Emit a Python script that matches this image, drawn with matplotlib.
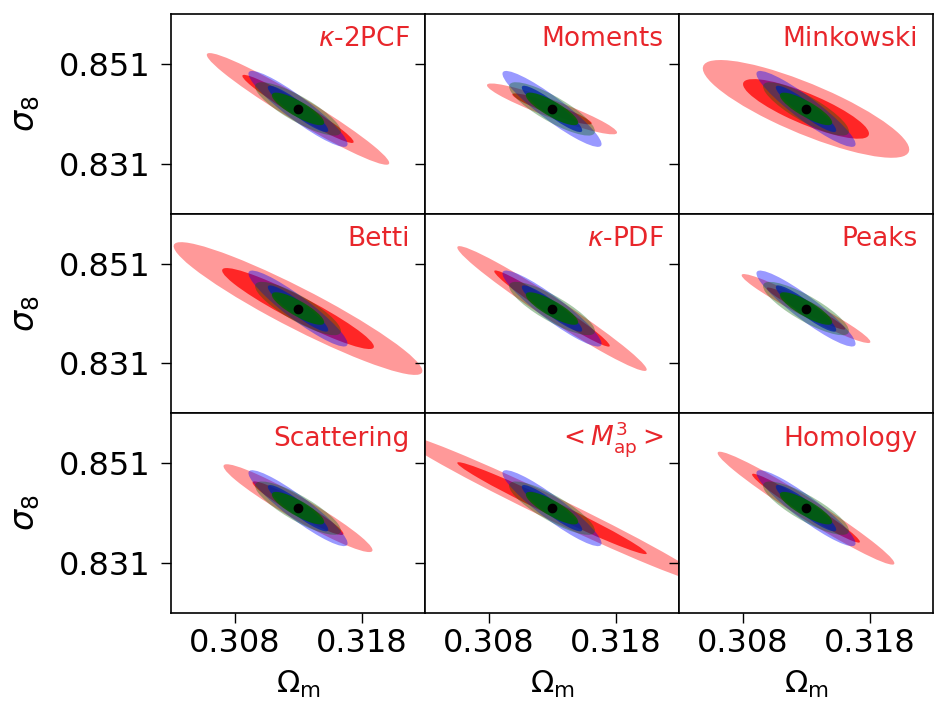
import numpy as np
import matplotlib
matplotlib.use("Agg")
import matplotlib.pyplot as plt
from matplotlib.patches import Ellipse

# panel names, row by row
probes = [r"$\kappa$-2PCF", "Moments", "Minkowski",
          "Betti", r"$\kappa$-PDF", "Peaks",
          "Scattering", r"$< M_{\rm ap}^3 >$", "Homology"]

# red contours: per-probe 1-sigma errors and correlation
sig_om = [0.00289, 0.00206, 0.00327, 0.00394, 0.00300, 0.00204, 0.00236, 0.00492, 0.00280]
sig_s8 = [0.00450, 0.00205, 0.00394, 0.00535, 0.00503, 0.00278, 0.00354, 0.00607, 0.00455]
rho = [-0.968, -0.93, -0.83, -0.94, -0.978, -0.965, -0.955, -0.985, -0.976]

# blue and green contours are the same in every panel
blue = (0.00157, 0.00306, -0.925)
green = (0.00136, 0.00215, -0.84)

fid_om = 0.313
fid_s8 = 0.842
xticks = [0.308, 0.318]
yticks = [0.831, 0.851]

k1 = np.sqrt(2.30)   # 68% for 2 params
k2 = np.sqrt(6.18)   # 95%


def ellipse(ax, s1, s2, r, k, color, alpha):
    cov = np.array([[s1 * s1, r * s1 * s2], [r * s1 * s2, s2 * s2]])
    vals, vecs = np.linalg.eigh(cov)
    ang = np.degrees(np.arctan2(vecs[1, 1], vecs[0, 1]))
    e = Ellipse((fid_om, fid_s8), 2 * k * np.sqrt(vals[1]), 2 * k * np.sqrt(vals[0]),
                angle=ang, facecolor=color, alpha=alpha, lw=0)
    ax.add_patch(e)


fig, axes = plt.subplots(3, 3, figsize=(9.36, 7.04), dpi=100, sharex=True, sharey=True)
fig.subplots_adjust(left=0.1827, right=0.9968, top=0.980, bottom=0.1293, wspace=0, hspace=0)

for i, ax in enumerate(axes.flat):
    ellipse(ax, sig_om[i], sig_s8[i], rho[i], k2, "red", 0.4)
    ellipse(ax, sig_om[i], sig_s8[i], rho[i], k1, "red", 0.75)
    ellipse(ax, *blue, k2, "blue", 0.4)
    ellipse(ax, *blue, k1, "blue", 0.75)
    ellipse(ax, *green, k2, "darkgreen", 0.35)
    ellipse(ax, *green, k1, "darkgreen", 0.85)
    ax.plot(fid_om, fid_s8, "o", color="black", ms=6)
    ax.text(0.94, 0.838, probes[i], transform=ax.transAxes, ha="right", va="baseline",
            color="#e8262b", fontsize=19)
    ax.set_xlim(0.303, 0.323)
    ax.set_ylim(0.821, 0.861)
    ax.set_xticks(xticks)
    ax.set_yticks(yticks)
    ax.set_xticklabels(["0.308", "0.318"])
    ax.set_yticklabels(["0.831", "0.851"])
    ax.tick_params(axis="y", length=7, width=1, pad=8, labelsize=23)
    ax.tick_params(axis="x", length=7, width=1, pad=4, labelsize=23)
    for s in ax.spines.values():
        s.set_linewidth(1.2)

for ax in axes[:, 0]:
    ax.set_ylabel(r"$\sigma_8$", fontsize=24, labelpad=12)
for ax in axes[-1, :]:
    ax.set_xlabel(r"$\Omega_{\rm m}$", fontsize=22, labelpad=7)

fig.savefig("out.png", dpi=100)
